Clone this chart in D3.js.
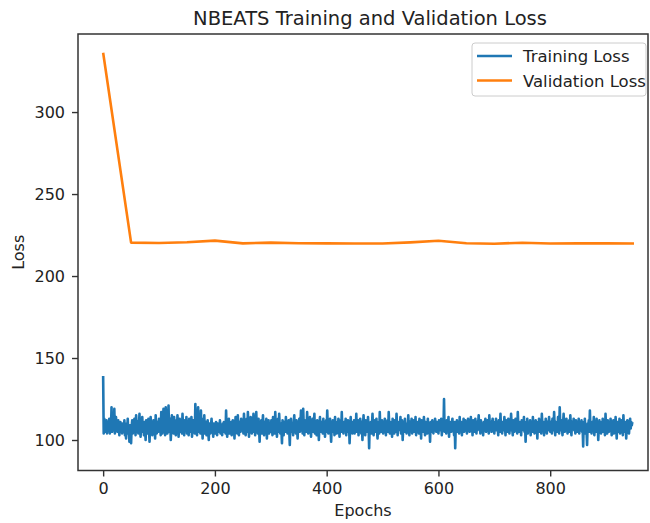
<!DOCTYPE html>
<html>
<head>
<meta charset="utf-8">
<script src="https://cdn.jsdelivr.net/npm/d3@7"></script>
<style>
  body { margin: 0; background: #fff; }
  text { font-family: "DejaVu Sans", sans-serif; fill: #222; }
</style>
</head>
<body>
<div id="chart"></div>
<script>
// training loss, one value per epoch
const trainLoss = [
139,104,113,106,110,105,112,104,108,111,106,113,104,109,107,120,105,110,112,106,119,104,108,114,107,110,105,112,108,103,109,111,106,108,104,110,107,105,112,103,108,101,110,106,113,104,107,99,109,105,
98,108,112,104,110,106,113,107,103,115,109,105,111,104,108,116,106,102,110,107,114,105,109,103,111,108,100,112,106,110,104,113,107,99,109,114,105,111,103,108,112,106,110,101,115,107,104,111,108,105,
113,106,109,103,117,108,104,112,119,106,110,103,120,107,111,104,109,121,105,110,113,100,108,115,106,111,104,114,107,109,103,112,106,115,108,102,110,113,105,109,111,104,116,107,110,103,112,108,106,114,
104,109,111,103,113,107,110,105,114,102,108,112,106,110,104,122,107,111,103,109,120,105,112,108,104,118,106,110,101,113,107,115,104,109,111,103,108,112,106,100,110,107,104,109,113,105,108,102,110,106,
109,104,111,107,103,110,106,108,105,112,104,109,107,103,110,106,111,105,108,104,118,107,102,110,106,113,104,109,107,111,103,108,112,105,110,101,109,114,106,108,104,115,107,103,111,109,105,113,108,106,
110,104,116,107,111,103,109,113,105,117,108,102,110,106,114,109,104,112,107,116,105,110,103,108,117,106,111,104,113,108,99,110,106,112,104,109,115,107,103,111,108,105,113,101,109,106,112,104,110,107,
105,112,108,103,114,106,110,104,117,107,111,102,109,113,105,116,108,104,110,106,98,112,107,103,111,109,105,114,107,110,104,108,112,106,97,109,113,105,110,107,103,111,115,106,109,104,112,108,101,110,
107,113,105,109,118,106,111,104,119,108,103,112,107,110,105,117,109,104,111,106,114,108,102,110,107,113,105,109,116,104,111,108,103,112,106,110,100,109,114,107,105,111,108,104,113,106,110,102,109,112,
105,118,108,104,111,107,113,106,99,110,108,112,105,109,103,114,107,111,104,110,106,113,108,102,109,112,105,117,107,110,104,111,108,106,113,103,109,107,112,105,110,98,108,114,106,111,104,109,107,112,
104,110,107,116,105,109,112,103,110,106,113,108,104,111,100,109,115,106,110,103,112,107,109,105,114,108,95,110,106,111,104,109,116,107,103,112,108,105,110,113,106,101,109,111,104,117,107,110,105,112,
108,104,111,106,113,109,103,110,107,112,105,117,108,104,111,106,109,102,113,107,110,104,112,108,105,116,109,103,111,106,110,107,114,104,109,112,100,108,111,105,113,107,110,104,109,106,115,108,103,111,
106,109,113,104,110,107,112,105,108,114,103,110,106,111,108,104,113,107,109,101,112,106,110,105,114,108,103,111,107,109,104,113,106,110,108,99,111,105,109,112,107,104,110,106,113,108,105,111,107,109,
104,112,108,110,106,113,103,109,111,107,125,105,110,108,104,112,106,109,114,102,110,107,111,105,109,113,106,108,103,111,95,109,107,112,105,110,108,104,114,106,109,111,103,110,107,113,105,108,112,106,
110,104,109,113,107,111,105,108,114,106,110,103,112,107,109,105,113,108,104,111,106,110,115,107,109,104,112,106,110,108,103,111,107,109,113,105,110,106,112,108,104,115,109,107,111,105,110,113,106,109,
104,111,107,113,106,110,108,103,112,109,105,116,107,110,104,111,108,106,114,109,103,112,107,110,105,113,108,104,111,106,116,109,107,103,112,110,105,108,113,106,110,104,117,108,105,111,107,109,103,112,
106,110,108,114,105,109,99,111,107,113,104,110,108,106,112,103,109,111,105,114,107,110,104,108,112,106,109,101,111,107,113,105,110,108,104,116,109,106,111,103,110,107,113,108,104,111,106,109,114,107,
105,111,108,104,113,109,106,117,108,103,111,107,110,105,114,108,104,120,109,106,112,107,103,110,116,108,105,111,106,113,109,104,110,107,112,105,115,108,103,111,107,109,113,106,110,104,112,108,105,111,
107,113,104,110,106,109,112,105,108,96,111,107,113,104,109,106,97,110,108,112,105,118,107,110,104,111,108,106,114,103,109,111,105,113,107,110,100,108,112,106,109,104,111,107,113,105,110,108,103,116,
107,110,104,112,108,105,111,106,113,109,103,110,107,112,104,109,106,114,108,101,111,105,110,107,113,104,109,106,112,108,103,115,107,110,105,111,101,108,112,106,109,104,110,113,107,111,109,111
];

// validation loss, checked every 50 epochs
const valEpochs = [0,50,100,150,200,250,300,350,400,450,500,550,600,650,700,750,800,850,900,950];
const valLoss = [336.2,220.4,220.1,220.6,221.6,219.9,220.4,220.0,219.9,219.8,219.8,220.5,221.5,220.0,219.7,220.3,219.8,219.9,219.9,219.8];

const xTicks = [0,200,400,600,800];
const yTicks = [100,150,200,250,300];

const width = 650, height = 523;
const plot = {left: 78, right: 648, top: 34, bottom: 470.5};

const svg = d3.select("#chart").append("svg")
  .attr("width", width)
  .attr("height", height);

const x = d3.scaleLinear().domain([-45, 975]).range([plot.left, plot.right]);
const y = d3.scaleLinear().domain([81.4, 347.6]).range([plot.bottom, plot.top]);

const trainData = trainLoss.map((v, i) => ({e: i, v: v}));
const valData = valLoss.map((v, i) => ({e: valEpochs[i], v: v}));

const line = d3.line().x(d => x(d.e)).y(d => y(d.v));

svg.append("path")
  .datum(trainData)
  .attr("d", line)
  .attr("fill", "none")
  .attr("stroke", "#1f77b4")
  .attr("stroke-width", 2.6)
  .attr("stroke-linejoin", "round");

svg.append("path")
  .datum(valData)
  .attr("d", line)
  .attr("fill", "none")
  .attr("stroke", "#ff7f0e")
  .attr("stroke-width", 2.6)
  .attr("stroke-linejoin", "round");

// axes
const xAxis = svg.append("g")
  .attr("transform", "translate(0," + plot.bottom + ")")
  .call(d3.axisBottom(x).tickValues(xTicks).tickSize(6).tickPadding(6).tickSizeOuter(0));
const yAxis = svg.append("g")
  .attr("transform", "translate(" + plot.left + ",0)")
  .call(d3.axisLeft(y).tickValues(yTicks).tickSize(6).tickPadding(7).tickSizeOuter(0));

[xAxis, yAxis].forEach(a => {
  a.select(".domain").remove();
  a.selectAll(".tick line").attr("stroke", "#333").attr("stroke-width", 1.4);
  a.selectAll(".tick text")
    .attr("font-family", "DejaVu Sans")
    .attr("font-size", "16px")
    .attr("fill", "#222");
});

// spines
svg.append("rect")
  .attr("x", plot.left)
  .attr("y", plot.top)
  .attr("width", plot.right - plot.left)
  .attr("height", plot.bottom - plot.top)
  .attr("fill", "none")
  .attr("stroke", "#333")
  .attr("stroke-width", 1.5);

// title and labels
svg.append("text")
  .attr("x", 370)
  .attr("y", 25)
  .attr("text-anchor", "middle")
  .attr("font-size", "19.5px")
  .text("NBEATS Training and Validation Loss");

svg.append("text")
  .attr("x", 363)
  .attr("y", 516)
  .attr("text-anchor", "middle")
  .attr("font-size", "16px")
  .text("Epochs");

svg.append("text")
  .attr("transform", "translate(24," + (plot.top + plot.bottom) / 2 + ") rotate(-90)")
  .attr("text-anchor", "middle")
  .attr("font-size", "16px")
  .text("Loss");

// legend
const legend = svg.append("g").attr("transform", "translate(472,43)");
legend.append("rect")
  .attr("width", 174)
  .attr("height", 53)
  .attr("rx", 3)
  .attr("fill", "#fff")
  .attr("fill-opacity", 0.8)
  .attr("stroke", "#ccc")
  .attr("stroke-width", 1);

const legendItems = [
  {label: "Training Loss", color: "#1f77b4"},
  {label: "Validation Loss", color: "#ff7f0e"}
];
const item = legend.selectAll(".item")
  .data(legendItems)
  .enter().append("g")
  .attr("class", "item")
  .attr("transform", (d, i) => "translate(0," + (13 + i * 24.5) + ")");
item.append("line")
  .attr("x1", 5).attr("x2", 40)
  .attr("stroke", d => d.color)
  .attr("stroke-width", 2.6);
item.append("text")
  .attr("x", 51)
  .attr("y", 6)
  .attr("font-size", "16.5px")
  .text(d => d.label);
</script>
</body>
</html>
